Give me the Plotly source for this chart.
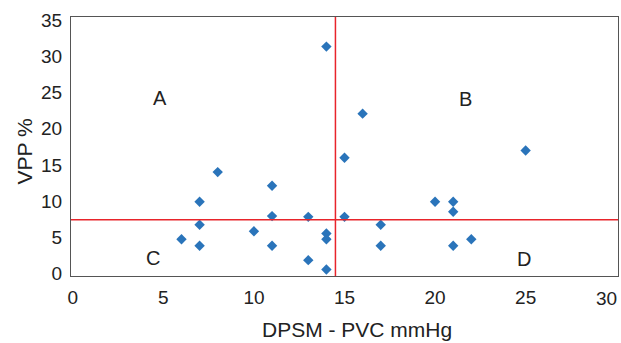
import plotly.graph_objects as go

# DPSM - PVC (mmHg) and VPP (%) readings
dpsm = [15, 8, 11, 7, 11, 13, 15, 7, 10, 14, 6, 14, 7, 11, 13, 14,
        25, 20, 21, 21, 17, 22, 17, 21, 14, 16]
vpp = [16.0, 14.0, 12.1, 9.9, 7.9, 7.8, 7.8, 6.7, 5.8, 5.5, 4.7, 4.7, 3.8, 3.8, 1.8, 0.5,
       17.0, 9.9, 9.9, 8.5, 6.7, 4.7, 3.8, 3.8, 31.4, 22.1]

cut_x = 14.5
cut_y = 7.4

quad_labels = ["A", "B", "C", "D"]
quad_x = [4.8, 21.7, 4.4, 24.9]
quad_y = [24.3, 24.2, 2.1, 1.9]

x_ticks = [0, 5, 10, 15, 20, 25]
y_ticks = [0, 5, 10, 15, 20, 25, 30, 35]

font_family = "Liberation Sans, Arial, sans-serif"
txt_color = "#222222"
tick_size = 19
title_size = 21

fig = go.Figure()
fig.add_trace(go.Scatter(
    x=dpsm, y=vpp, mode="markers",
    marker=dict(symbol="diamond", size=8, color="#2a74ba"),
    showlegend=False, hoverinfo="x+y"))

fig.add_shape(type="line", xref="x", yref="paper", x0=cut_x, x1=cut_x, y0=0, y1=1,
              line=dict(color="#e8242b", width=1.5))
fig.add_shape(type="line", xref="paper", yref="y", x0=0, x1=1, y0=cut_y, y1=cut_y,
              line=dict(color="#e8242b", width=1.5))

for t, x, y in zip(quad_labels, quad_x, quad_y):
    fig.add_annotation(x=x, y=y, text=t, showarrow=False,
                       font=dict(size=20, color=txt_color, family=font_family))

# last x tick label, kept inside the page
fig.add_annotation(x=1, y=0, xref="paper", yref="paper", yanchor="top", xanchor="right",
                   yshift=-10, xshift=1, text="30", showarrow=False,
                   font=dict(size=tick_size, color=txt_color, family=font_family))

# x axis title
fig.add_annotation(x=0.5, y=0, xref="paper", yref="paper", yanchor="top", xanchor="center",
                   yshift=-40, xshift=12, text="DPSM - PVC mmHg", showarrow=False,
                   font=dict(size=title_size, color=txt_color, family=font_family))

# y axis title
fig.add_annotation(x=0, y=0.5, xref="paper", yref="paper", xanchor="center", yanchor="middle",
                   xshift=-47, yshift=-5, text="VPP %", textangle=-90, showarrow=False,
                   font=dict(size=title_size, color=txt_color, family=font_family))

fig.update_layout(
    width=621, height=343,
    margin=dict(l=71, r=3, t=17, b=67, autoexpand=False),
    paper_bgcolor="white", plot_bgcolor="white",
    font=dict(family=font_family, size=tick_size, color=txt_color),
    xaxis=dict(range=[-0.1, 30.1], tickvals=x_ticks, showgrid=False, zeroline=False,
               showline=True, linecolor="#555555", linewidth=1, mirror=True,
               ticks="", ticklen=0, automargin=False, ticklabelstandoff=4,
               tickfont=dict(size=tick_size)),
    yaxis=dict(range=[-0.4, 35.5], tickvals=y_ticks, showgrid=False, zeroline=False,
               showline=True, linecolor="#555555", linewidth=1, mirror=True,
               ticks="", ticklen=0, automargin=False, ticklabelstandoff=4,
               tickfont=dict(size=tick_size)),
)

fig.write_html("out.html", config={"displayModeBar": False},
               post_script="document.body.style.margin='0';document.body.style.overflow='hidden';")
